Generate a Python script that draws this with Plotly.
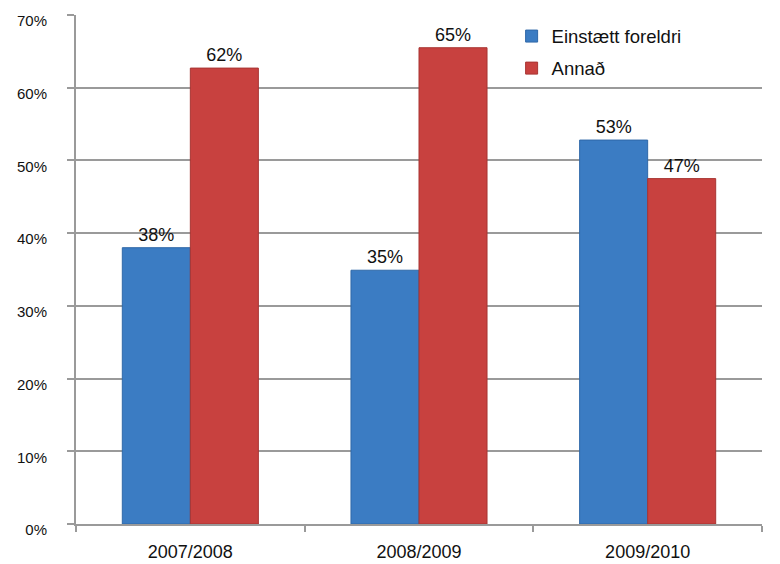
import plotly.graph_objects as go

categories = ["2007/2008", "2008/2009", "2009/2010"]
einstaett_values = [0.380, 0.349, 0.528]
annad_values = [0.627, 0.655, 0.475]
einstaett_labels = ["38%", "35%", "53%"]
annad_labels = ["62%", "65%", "47%"]
y_ticks = [0, 0.1, 0.2, 0.3, 0.4, 0.5, 0.6, 0.7]
y_tick_labels = ["0%", "10%", "20%", "30%", "40%", "50%", "60%", "70%"]

FONT = "Liberation Sans, Arial, sans-serif"
GRID = "#9a9a9a"

fig = go.Figure()
fig.add_trace(go.Bar(
    x=categories, y=einstaett_values, name="Einstætt foreldri",
    text=einstaett_labels, textposition="outside", cliponaxis=False,
    textfont=dict(size=18, color="#111111", family=FONT),
    marker=dict(color="#3b7cc3", line=dict(color="#2f68a8", width=1)),
    legendgroup="a",
))
fig.add_trace(go.Bar(
    x=categories, y=annad_values, name="Annað",
    text=annad_labels, textposition="outside", cliponaxis=False,
    textfont=dict(size=18, color="#111111", family=FONT),
    marker=dict(color="#c8413f", line=dict(color="#a83533", width=1)),
    legendgroup="b",
))

# page body has an 8px margin, so the figure is 8px smaller and starts at (8, 8)
fig.update_layout(
    width=772, height=556,
    margin=dict(l=68, r=18, t=7, b=40, autoexpand=False),
    paper_bgcolor="white", plot_bgcolor="white",
    barmode="group", bargap=0.405, bargroupgap=0,
    font=dict(family=FONT, size=16, color="#111111"),
    showlegend=True,
    legend=dict(
        x=0.635, y=0.995, xanchor="left", yanchor="top",
        font=dict(size=18.5, family=FONT, color="#111111"),
        bgcolor="rgba(255,255,255,0)",
        traceorder="grouped", tracegroupgap=5,
    ),
    xaxis=dict(
        type="category", showline=True, linecolor=GRID, linewidth=2,
        ticks="outside", tickson="boundaries", ticklen=6, tickcolor=GRID, tickwidth=2,
        showgrid=False, automargin=False,
        tickfont=dict(size=18, family=FONT, color="#111111"),
        ticklabelstandoff=10,
    ),
    yaxis=dict(
        range=[0, 0.7], tickvals=y_ticks, ticktext=y_tick_labels,
        showline=True, linecolor=GRID, linewidth=2,
        ticks="outside", ticklen=7, tickcolor=GRID, tickwidth=2,
        showgrid=True, gridcolor=GRID, gridwidth=2, zeroline=False,
        automargin=False,
        tickfont=dict(size=15, family=FONT, color="#111111"),
        ticklabelstandoff=17, ticklabelshift=6,
    ),
)

fig.write_html("out.html")
